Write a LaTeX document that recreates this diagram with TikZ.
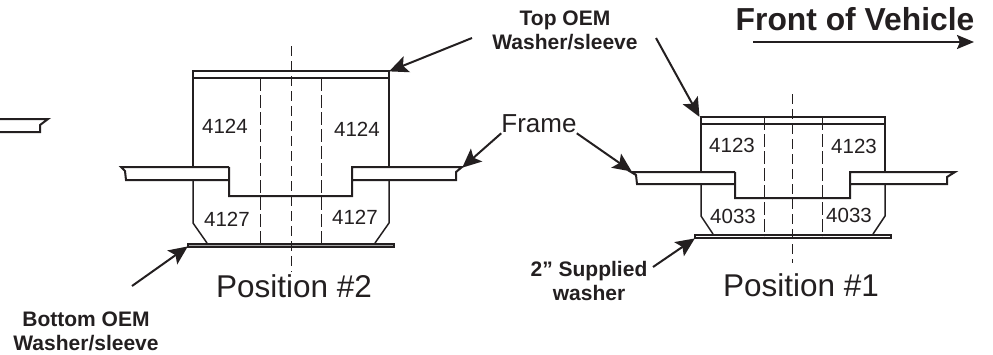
\documentclass[tikz,border=0pt]{standalone}
\usepackage{fontspec}
\setmainfont{Liberation Sans}
\usetikzlibrary{arrows.meta}
\definecolor{inkc}{HTML}{231F20}
\tikzset{
  partline/.style = {draw=inkc, line width=1.5pt},
  frameline/.style = {draw=inkc, line width=2pt, fill=white},
  washer/.style   = {draw=inkc, line width=1.8pt},
  boreline/.style = {draw=inkc, line width=1pt, dash pattern=on 13pt off 4pt},
  centreline/.style = {draw=inkc, line width=1pt, dash pattern=on 10pt off 5pt},
  pointer/.style  = {draw=inkc, line width=2pt, -{Stealth[length=19pt,width=17pt,inset=4pt]}, shorten >=-1pt},
  partno/.style   = {text=inkc, inner sep=0pt, font=\fontsize{20.5}{22}\selectfont},
  posname/.style  = {text=inkc, inner sep=0pt, font=\fontsize{31.5}{33}\selectfont},
  callout/.style  = {text=inkc, inner sep=0pt, align=center, font=\fontsize{21}{24}\selectfont\bfseries}
}
\begin{document}
\begin{tikzpicture}[x=1pt, y=-1pt]
  \useasboundingbox (0,0) rectangle (993,354);
  % position 2
  \draw[partline] (193,167) -- (193,78) (389,78) -- (389,167);
  \draw[partline] (193,180) -- (193,223) -- (207,243) (389,180) -- (389,223) -- (375,243);
  \draw[frameline, fill=none] (229,167) -- (121,167) -- (125,171) -- (126,180) -- (229,180);
  \draw[frameline] (229,167) -- (229,196) -- (352,196) -- (352,167) -- (462,167) -- (456,172) -- (456,180) -- (352,180);
  \draw[washer] (193,71) rectangle (389,78);
  \draw[washer, fill=black!35] (188,244) rectangle (394,247);
  \draw[boreline] (260,78) -- (260,244);
  \draw[boreline] (321,78) -- (321,244);
  \draw[centreline] (291,46) -- (291,272);
  % position 1
  \draw[partline] (701,124) -- (701,172) (885,124) -- (885,172);
  \draw[partline] (701,184) -- (701,216) -- (713,234) (885,184) -- (885,216) -- (873,234);
  \draw[frameline, fill=none] (735,172) -- (631,172) -- (636,175) -- (637,184) -- (735,184);
  \draw[frameline] (735,172) -- (735,198) -- (850,198) -- (850,172) -- (955,172) -- (947,177) -- (947,184) -- (850,184);
  \draw[washer] (701,117) rectangle (885,124);
  \draw[washer] (695,235) rectangle (891,238);
  \draw[boreline] (764,117) -- (764,236);
  \draw[boreline] (822,117) -- (822,236);
  \draw[centreline] (792,94) -- (792,263);
  % left over piece of frame
  \draw[frameline, fill=none] (-2,119) -- (48,119) -- (40,125) -- (40,132) -- (-2,132);
  % part numbers
  \node[partno] (ntl) at (225,126) {4124};
  \node[partno] (ntr) at (357,129) {4124};
  \node[partno] (nbl) at (227,219) {4127};
  \node[partno] (nbr) at (355,217) {4127};
  \node[partno] (mtl) at (732,145) {4123};
  \node[partno] (mtr) at (854,146) {4123};
  \node[partno] (mbl) at (733,216) {4033};
  \node[partno] (mbr) at (849,215) {4033};
  \node[posname] (posb) at (294,286) {Position \#2};
  \node[posname] (posa) at (801,285) {Position \#1};
  % callouts
  \node[callout] (topoem) at (565,30) {Top OEM\\Washer/sleeve};
  \node[callout] (botoem) at (86,331) {Bottom OEM\\Washer/sleeve};
  \node[callout] (supplied) at (589,281) {2” Supplied\\washer};
  \node[text=inkc, inner sep=0pt, font=\fontsize{26}{28}\selectfont] (frame) at (539,124) {Frame};
  \node[text=inkc, inner sep=0pt, font=\fontsize{31.8}{34}\selectfont\bfseries] (front) at (855,19) {Front of Vehicle};
  \coordinate (topatail) at (472,38);
  \coordinate (topatip) at (390,71);
  \coordinate (topbtail) at (656,38);
  \coordinate (topbtip) at (699,116);
  \coordinate (framebtip) at (463,167);
  \coordinate (frameatip) at (631,171);
  \coordinate (bottail) at (132,286);
  \coordinate (bottip) at (187,247);
  \coordinate (suptail) at (653,267);
  \coordinate (suptip) at (694,239);
  \coordinate (fronttail) at (753,42);
  \coordinate (fronttip) at (973,42);
  \draw[pointer] (topatail) -- (topatip);
  \draw[pointer] (topbtail) -- (topbtip);
  \draw[pointer] (frame.south west) -- (framebtip);
  \draw[pointer] (frame.south east) -- (frameatip);
  \draw[pointer] (bottail) -- (bottip);
  \draw[pointer] (suptail) -- (suptip);
  \draw[pointer, -{Stealth[length=17pt,width=14pt,inset=3pt]}] (fronttail) -- (fronttip);
\end{tikzpicture}
\end{document}
